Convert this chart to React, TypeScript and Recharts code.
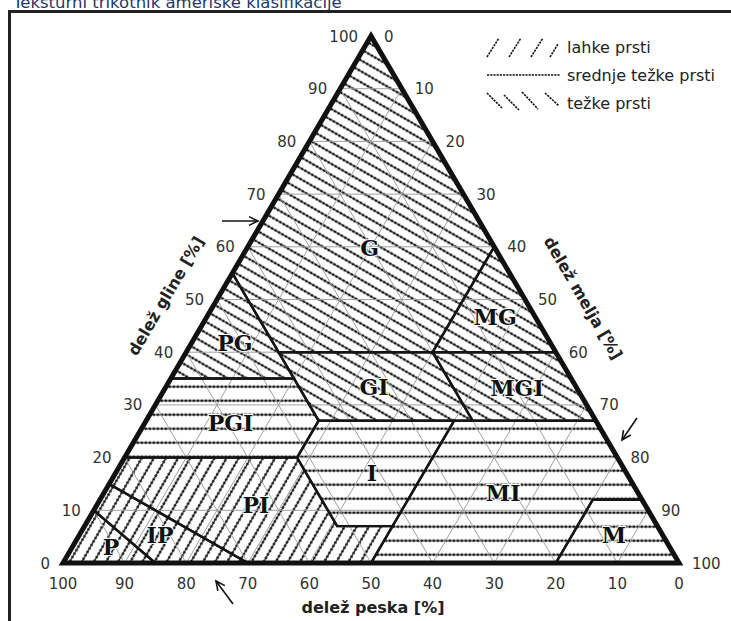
import React from 'react';
import { ScatterChart, Scatter, XAxis, YAxis } from 'recharts';

const W = 731;
const H = 621;

// Percent steps for the inner grid and the three scales
const gridSteps = [10, 20, 30, 40, 50, 60, 70, 80, 90];
const tickValues = [0, 10, 20, 30, 40, 50, 60, 70, 80, 90, 100];

// Texture classes, vertices given as [sand %, clay %]; silt is the remainder
const glina = [[0, 100], [45, 55], [45, 40], [20, 40], [0, 60]];
const pescenaGlina = [[45, 55], [65, 35], [45, 35]];
const meljastaGlina = [[0, 60], [20, 40], [0, 40]];
const glinastaIlovica = [[20, 40], [45, 40], [45, 27], [20, 27]];
const meljastoGlinastaIlovica = [[0, 40], [20, 40], [20, 27], [0, 27]];
const pescenoGlinastaIlovica = [[65, 35], [45, 35], [45, 27], [52, 20], [80, 20]];
const ilovica = [[45, 27], [23, 27], [43, 7], [52, 7], [52, 20]];
const meljastaIlovica = [[23, 27], [0, 27], [0, 12], [8, 12], [20, 0], [50, 0], [43, 7]];
const melj = [[20, 0], [0, 0], [0, 12], [8, 12]];
const pescenaIlovica = [[80, 20], [52, 20], [52, 7], [43, 7], [50, 0], [70, 0], [85, 15]];
const ilovnatPesek = [[85, 15], [70, 0], [85, 0], [90, 10]];
const pesek = [[90, 10], [85, 0], [100, 0]];

const classPolygons = [
  glina, pescenaGlina, meljastaGlina, glinastaIlovica, meljastoGlinastaIlovica,
  pescenoGlinastaIlovica, ilovica, meljastaIlovica, melj,
  pescenaIlovica, ilovnatPesek, pesek,
];
const classCodes = ['G', 'PG', 'MG', 'GI', 'MGI', 'PGI', 'I', 'MI', 'M', 'PI', 'IP', 'P'];
const classGroups = [
  'heavy', 'heavy', 'heavy', 'heavy', 'heavy',
  'medium', 'medium', 'medium', 'medium',
  'light', 'light', 'light',
];
// where each class code sits, as [sand %, clay %]
const classLabelAt = [
  [20.3, 59.8], [51.2, 41.8], [6.5, 46.7], [32.8, 33.4], [9.7, 33.2],
  [59.5, 26.6], [41.3, 17.1], [21.9, 13.3], [7.9, 5.3],
  [63.2, 11.0], [81.6, 5.3], [90.7, 3.0],
];

const corners = [[100, 0], [0, 100], [0, 0]];

const legendNames = ['lahke prsti', 'srednje težke prsti', 'težke prsti'];

// ternary composition -> plane coordinates (x across the base, y = clay)
const toXY = ([sand, clay]: number[]) => ({ x: 100 - sand - clay / 2, y: clay });

const FONT = '"DejaVu Sans", Verdana, sans-serif';

type Pt = { x: number; y: number };

const PolyShape = (props: any) => {
  const pts: Pt[] = (props.points || []).filter((p: Pt) => p && p.x != null && p.y != null);
  if (!pts.length) return null;
  const d = pts.map((p, i) => `${i ? 'L' : 'M'}${p.x},${p.y}`).join(' ') + (props.closed ? ' Z' : '');
  return (
    <path
      d={d}
      fill={props.area || 'none'}
      stroke={props.edge || 'none'}
      strokeWidth={props.edgeWidth || 0}
      strokeLinejoin="miter"
      strokeMiterlimit={10}
    />
  );
};

const SegmentShape = (props: any) => {
  const pts: Pt[] = props.points || [];
  let d = '';
  for (let i = 0; i + 1 < pts.length; i += 2) {
    d += `M${pts[i].x},${pts[i].y}L${pts[i + 1].x},${pts[i + 1].y}`;
  }
  return <path d={d} fill="none" stroke={props.edge} strokeWidth={props.edgeWidth} />;
};

const noDot = () => <g />;

const tickShape = (side: 'left' | 'right' | 'bottom') => (p: any) => {
  const { cx, cy, payload } = p;
  if (cx == null || cy == null) return <g />;
  let x = cx;
  let y = cy + 5.5;
  let anchor: 'start' | 'middle' | 'end' = 'middle';
  if (side === 'left') { x = cx - 13; anchor = 'end'; }
  if (side === 'right') { x = cx + 13; anchor = 'start'; }
  if (side === 'bottom') { y = cy + 26; }
  return (
    <text x={x} y={y} textAnchor={anchor} fontFamily={FONT} fontSize={15} fill="#333">
      {payload.label}
    </text>
  );
};

const classLabelShape = (p: any) => {
  const { cx, cy, payload } = p;
  if (cx == null || cy == null) return <g />;
  return (
    <text
      x={cx}
      y={cy}
      dy="0.36em"
      textAnchor="middle"
      fontFamily='"DejaVu Serif", serif'
      fontWeight="bold"
      fontSize={22}
      fill="#111"
      stroke="#fff"
      strokeWidth={2}
      paintOrder="stroke"
    >
      {payload.code}
    </text>
  );
};

// grid segments, listed pairwise (start, end)
const clayGrid = gridSteps.flatMap((k) => [toXY([100 - k, k]), toXY([0, k])]);
const sandGrid = gridSteps.flatMap((k) => [toXY([k, 0]), toXY([k, 100 - k])]);
const siltGrid = gridSteps.flatMap((k) => [toXY([100 - k, 0]), toXY([0, 100 - k])]);

const leftTicks = tickValues.map((v) => ({ ...toXY([100 - v, v]), label: v }));
const rightTicks = tickValues.map((v) => ({ ...toXY([0, 100 - v]), label: v }));
const bottomTicks = tickValues.map((v) => ({ ...toXY([v, 0]), label: v }));

const classLabels = classLabelAt.map((c, i) => ({ ...toXY(c), code: classCodes[i] }));

// dotted hatch tile: thin line with small beads along it
const Hatch = ({ id, gap, angle, offset }: { id: string; gap: number; angle: number; offset: number }) => (
  <pattern
    id={id}
    patternUnits="userSpaceOnUse"
    width={4}
    height={gap}
    patternTransform={angle ? `rotate(${angle})` : undefined}
    y={offset}
  >
    <rect x={0} y={gap / 2 - 0.6} width={4} height={1.2} fill="#1a1a1a" />
    <rect x={0.8} y={gap / 2 - 1.2} width={2} height={2.4} fill="#0d0d0d" />
  </pattern>
);

const Arrow = ({ x1, y1, x2, y2 }: { x1: number; y1: number; x2: number; y2: number }) => {
  const a = Math.atan2(y2 - y1, x2 - x1);
  const L = 10;
  const s = 0.45;
  const h1 = { x: x2 - L * Math.cos(a - s), y: y2 - L * Math.sin(a - s) };
  const h2 = { x: x2 - L * Math.cos(a + s), y: y2 - L * Math.sin(a + s) };
  return (
    <g stroke="#111" strokeWidth={1.6} fill="none">
      <line x1={x1} y1={y1} x2={x2} y2={y2} />
      <polyline points={`${h1.x},${h1.y} ${x2},${y2} ${h2.x},${h2.y}`} />
    </g>
  );
};

export default function App() {
  return (
    <div style={{ position: 'absolute', left: 0, top: 0, width: W, height: H, background: '#fff' }}>
      <svg width={0} height={0} style={{ position: 'absolute' }}>
        <defs>
          <Hatch id="hatch-heavy" gap={9.5} angle={30} offset={0} />
          <Hatch id="hatch-medium" gap={14} angle={0} offset={1.7} />
          <Hatch id="hatch-light" gap={10.5} angle={-60} offset={0} />
        </defs>
      </svg>

      <div style={{ position: 'absolute', left: 0, top: 0 }}>
        <ScatterChart width={W} height={H} margin={{ top: 36, right: 52, bottom: 58, left: 63 }}>
          <XAxis type="number" dataKey="x" domain={[0, 100]} hide />
          <YAxis type="number" dataKey="y" domain={[0, 100]} hide width={0} />

          {classPolygons.map((poly, i) => (
            <Scatter
              key={`fill-${classCodes[i]}`}
              data={poly.map(toXY)}
              isAnimationActive={false}
              shape={noDot}
              line={<PolyShape area={`url(#hatch-${classGroups[i]})`} closed />}
            />
          ))}

          <Scatter data={clayGrid} isAnimationActive={false} shape={noDot} line={<SegmentShape edge="#a0a0a0" edgeWidth={1} />} />
          <Scatter data={sandGrid} isAnimationActive={false} shape={noDot} line={<SegmentShape edge="#a0a0a0" edgeWidth={1} />} />
          <Scatter data={siltGrid} isAnimationActive={false} shape={noDot} line={<SegmentShape edge="#a0a0a0" edgeWidth={1} />} />

          {classPolygons.map((poly, i) => (
            <Scatter
              key={`edge-${classCodes[i]}`}
              data={poly.map(toXY)}
              isAnimationActive={false}
              shape={noDot}
              line={<PolyShape edge="#151515" edgeWidth={2.4} closed />}
            />
          ))}

          <Scatter
            data={corners.map(toXY)}
            isAnimationActive={false}
            shape={noDot}
            line={<PolyShape edge="#111" edgeWidth={5} closed />}
          />

          <Scatter data={classLabels} isAnimationActive={false} shape={classLabelShape} />
          <Scatter data={leftTicks} isAnimationActive={false} shape={tickShape('left')} />
          <Scatter data={rightTicks} isAnimationActive={false} shape={tickShape('right')} />
          <Scatter data={bottomTicks} isAnimationActive={false} shape={tickShape('bottom')} />
        </ScatterChart>
      </div>

      <svg
        width={W}
        height={H}
        style={{ position: 'absolute', left: 0, top: 0, pointerEvents: 'none' }}
      >
        <text x={13} y={7.5} fontFamily={FONT} fontSize={16.5} fill="#1f3864">
          Teksturni trikotnik ameriške klasifikacije
        </text>
        <path d={`M${W + 5},11.5 L9.5,11.5 L9.5,${H + 5}`} fill="none" stroke="#222" strokeWidth={3} />

        {/* legend */}
        <g stroke="#111" strokeWidth={1.6} strokeDasharray="2.2 1">
          <line x1={487} y1={57} x2={499} y2={38} />
          <line x1={509} y1={57} x2={521} y2={38} />
          <line x1={531} y1={57} x2={543} y2={38} />
          <line x1={550} y1={57} x2={558} y2={44} />
          <line x1={487} y1={75} x2={560} y2={75} strokeWidth={1.3} />
          <line x1={487} y1={93} x2={502} y2={108} />
          <line x1={504} y1={95} x2={519} y2={110} />
          <line x1={522} y1={92} x2={538} y2={109} />
          <line x1={545} y1={93} x2={559} y2={106} />
        </g>
        {legendNames.map((n, i) => (
          <text key={n} x={567} y={53 + i * 28} fontFamily={FONT} fontSize={16} fill="#222">
            {n}
          </text>
        ))}

        {/* axis titles */}
        <text x={373} y={613} textAnchor="middle" fontFamily={FONT} fontWeight="bold" fontSize={16} fill="#222">
          delež peska [%]
        </text>
        <text
          x={166}
          y={296}
          textAnchor="middle"
          dominantBaseline="central"
          transform="rotate(-59.7 166 296)"
          fontFamily={FONT}
          fontWeight="bold"
          fontSize={16}
          fill="#222"
        >
          delež gline [%]
        </text>
        <text
          x={583}
          y={298}
          textAnchor="middle"
          dominantBaseline="central"
          transform="rotate(59.7 583 298)"
          fontFamily={FONT}
          fontWeight="bold"
          fontSize={16}
          fill="#222"
        >
          delež melja [%]
        </text>

        {/* reading-direction arrows */}
        <Arrow x1={222} y1={221} x2={258} y2={221} />
        <Arrow x1={637} y1={418} x2={622} y2={440} />
        <Arrow x1={233} y1={604} x2={216} y2={581} />
      </svg>
    </div>
  );
}
